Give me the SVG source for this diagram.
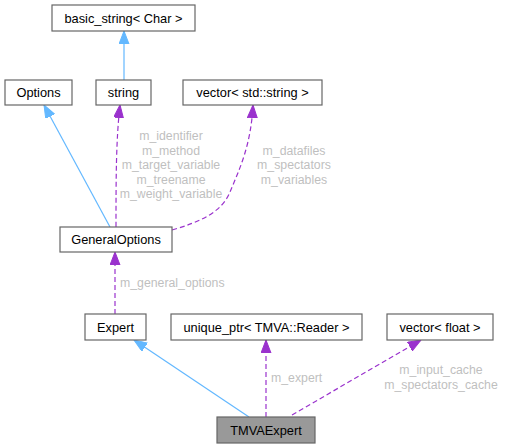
<svg xmlns="http://www.w3.org/2000/svg" width="507" height="448" viewBox="0 0 507 448">
<style>
.box{fill:#ffffff;stroke:#666666;stroke-width:1.2}
.main{fill:#999999;stroke:#666666;stroke-width:1.2}
.nt{font-family:"Liberation Sans",Arial,sans-serif;font-size:12.8px;fill:#000000;text-anchor:middle}
.lb{font-family:"Liberation Sans",Arial,sans-serif;font-size:12.3px;fill:#bfbfbf}
.inh{fill:none;stroke:#63B8FF;stroke-width:1.2}
.use{fill:none;stroke:#9A32CD;stroke-width:1.2;stroke-dasharray:5,3}
</style>
<defs>
<marker id="ab" markerUnits="userSpaceOnUse" markerWidth="14" markerHeight="11" refX="13" refY="5" orient="auto" viewBox="0 0 14 11">
<path d="M0,0 L13,5 L0,10 z" fill="#63B8FF" stroke="#63B8FF"/>
</marker>
<marker id="ap" markerUnits="userSpaceOnUse" markerWidth="14" markerHeight="11" refX="13" refY="5" orient="auto" viewBox="0 0 14 11">
<path d="M0,0 L13,5 L0,10 z" fill="#9A32CD" stroke="#9A32CD"/>
</marker>
</defs>
<g id="connectors">
<path class="inh" d="M124,80 L124,31" marker-end="url(#ab)"/>
<path class="inh" d="M110,227 L44,105" marker-end="url(#ab)"/>
<path class="use" d="M116,227 C116,180 116,140 120,105" marker-end="url(#ap)"/>
<path class="use" d="M172,230 C200,222 222,212 230,192 C240,168 251,145 253,105" marker-end="url(#ap)"/>
<path class="use" d="M115,314 L115,252" marker-end="url(#ap)"/>
<path class="inh" d="M249,417 L134,340" marker-end="url(#ab)"/>
<path class="use" d="M266,417 L266,340" marker-end="url(#ap)"/>
<path class="use" d="M292,415 L421,340" marker-end="url(#ap)"/>
<text class="lb" x="171" y="140" text-anchor="middle">m_identifier</text>
<text class="lb" x="171" y="154.5" text-anchor="middle">m_method</text>
<text class="lb" x="171" y="169" text-anchor="middle">m_target_variable</text>
<text class="lb" x="171" y="183.5" text-anchor="middle">m_treename</text>
<text class="lb" x="171" y="198" text-anchor="middle">m_weight_variable</text>
<text class="lb" x="294" y="154.5" text-anchor="middle">m_datafiles</text>
<text class="lb" x="294" y="169" text-anchor="middle">m_spectators</text>
<text class="lb" x="294" y="183.5" text-anchor="middle">m_variables</text>
<text class="lb" x="120" y="287">m_general_options</text>
<text class="lb" x="271" y="382">m_expert</text>
<text class="lb" x="441" y="374" text-anchor="middle">m_input_cache</text>
<text class="lb" x="441" y="389" text-anchor="middle">m_spectators_cache</text>
</g>
<g id="node-basic_string">
<rect class="box" x="52" y="5" width="143" height="26"/>
<text class="nt" x="123.5" y="22.5">basic_string&lt; Char &gt;</text>
</g>
<g id="node-Options">
<rect class="box" x="5" y="80" width="67" height="25"/>
<text class="nt" x="38.5" y="97">Options</text>
</g>
<g id="node-string">
<rect class="box" x="96" y="80" width="55" height="25"/>
<text class="nt" x="123.5" y="97">string</text>
</g>
<g id="node-vector_string">
<rect class="box" x="183" y="80" width="139" height="25"/>
<text class="nt" x="252.5" y="97">vector&lt; std::string &gt;</text>
</g>
<g id="node-GeneralOptions">
<rect class="box" x="60" y="227" width="112" height="25"/>
<text class="nt" x="116" y="244">GeneralOptions</text>
</g>
<g id="node-Expert">
<rect class="box" x="85" y="314" width="61" height="26"/>
<text class="nt" x="115.5" y="331.5">Expert</text>
</g>
<g id="node-unique_ptr">
<rect class="box" x="171" y="314" width="191" height="26"/>
<text class="nt" x="266.5" y="331.5">unique_ptr&lt; TMVA::Reader &gt;</text>
</g>
<g id="node-vector_float">
<rect class="box" x="387" y="314" width="106" height="26"/>
<text class="nt" x="440" y="331.5">vector&lt; float &gt;</text>
</g>
<g id="node-TMVAExpert">
<rect class="main" x="217" y="417" width="98" height="26"/>
<text class="nt" x="266" y="434.5">TMVAExpert</text>
</g>
</svg>
